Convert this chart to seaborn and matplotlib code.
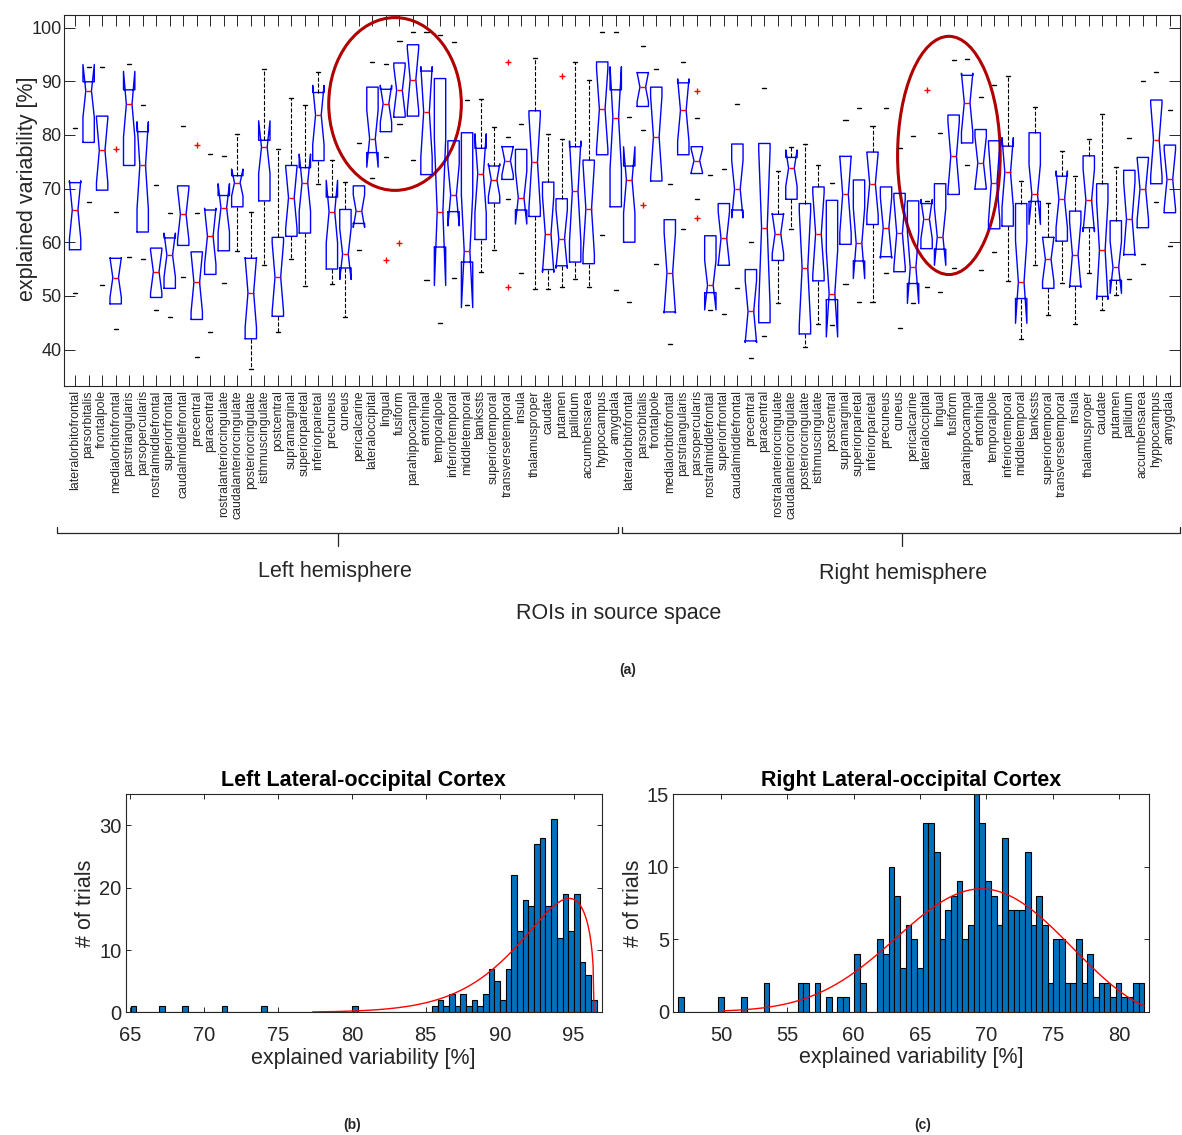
import numpy as np
import pandas as pd
import matplotlib
matplotlib.use('Agg')
import matplotlib.pyplot as plt
import seaborn as sns
from matplotlib.patches import Ellipse
from matplotlib.lines import Line2D

# ROI names (same list for both hemispheres)
rois = ['lateralorbitofrontal', 'parsorbitalis', 'frontalpole', 'medialorbitofrontal',
        'parstriangularis', 'parsopercularis', 'rostralmiddlefrontal', 'superiorfrontal',
        'caudalmiddlefrontal', 'precentral', 'paracentral', 'rostralanteriorcingulate',
        'caudalanteriorcingulate', 'posteriorcingulate', 'isthmuscingulate', 'postcentral',
        'supramarginal', 'superiorparietal', 'inferiorparietal', 'precuneus', 'cuneus',
        'pericalcarine', 'lateraloccipital', 'lingual', 'fusiform', 'parahippocampal',
        'entorhinal', 'temporalpole', 'inferiortemporal', 'middletemporal', 'bankssts',
        'superiortemporal', 'transversetemporal', 'insula', 'thalamusproper', 'caudate',
        'putamen', 'pallidum', 'accumbensarea', 'hyppocampus', 'amygdala']

# box statistics, left hemisphere
left_med = [66.0, 88.2, 77.1, 53.4, 85.7, 74.3, 54.5, 57.6, 65.2, 52.5, 61.1, 66.4, 71.1, 50.6,
            77.7, 53.5, 68.3, 71.1, 83.7, 65.7, 57.8, 65.8, 79.3, 85.8, 88.3, 90.3, 84.3, 65.6,
            68.8, 58.3, 72.8, 71.6, 75.2, 68.3, 75.0, 61.5, 60.6, 69.5, 66.2, 84.8, 83.2]
left_q1 = [58.6, 78.6, 69.7, 48.5, 74.3, 61.9, 49.7, 51.4, 59.4, 45.6, 54.0, 58.4, 66.6, 42.0,
           67.7, 46.2, 61.1, 61.7, 75.2, 55.0, 55.2, 63.5, 76.7, 80.6, 83.3, 83.5, 72.6, 59.1,
           65.7, 56.3, 60.5, 67.3, 71.7, 66.0, 64.8, 54.9, 55.6, 56.3, 56.0, 76.3, 66.6]
left_q3 = [71.1, 89.9, 83.5, 57.0, 88.4, 80.6, 58.9, 60.8, 70.5, 58.2, 66.0, 68.7, 72.4, 57.0,
           79.0, 60.9, 74.3, 73.9, 87.9, 68.4, 66.1, 70.5, 88.9, 88.5, 93.4, 96.8, 91.9, 90.5,
           78.9, 80.4, 77.5, 74.2, 77.8, 77.3, 84.5, 71.2, 68.1, 77.8, 75.3, 93.6, 88.4]
left_lo = [50.6, 67.4, 52.0, 43.9, 57.3, 56.9, 47.3, 46.0, 53.5, 38.6, 43.3, 52.4, 58.3, 36.3,
           55.7, 43.3, 56.8, 51.8, 70.9, 52.2, 46.0, 58.6, 71.9, 75.9, 82.0, 75.3, 53.0, 45.0,
           53.4, 48.3, 54.5, 58.6, 68.0, 54.2, 51.2, 51.2, 51.7, 53.2, 51.7, 61.4, 51.1]
left_hi = [81.2, 92.7, 92.7, 65.7, 93.3, 85.5, 70.7, 65.5, 81.6, 65.5, 76.5, 76.1, 80.1, 65.7,
           92.2, 77.3, 86.8, 85.5, 91.7, 75.3, 71.2, 78.5, 93.6, 93.3, 97.5, 99.1, 99.2, 98.7,
           97.3, 86.5, 86.6, 81.4, 79.6, 82.0, 94.3, 80.2, 79.3, 93.6, 90.3, 99.1, 99.1]
left_fliers = {4: [77.3], 10: [78.1], 24: [56.6], 25: [59.9], 33: [93.6, 51.6], 37: [90.9]}

# box statistics, right hemisphere
right_med = [71.6, 88.9, 79.6, 54.3, 84.6, 75.2, 52.0, 60.7, 69.9, 47.1, 62.7, 61.6, 73.8, 55.2,
             61.6, 50.4, 68.9, 59.8, 70.9, 62.7, 61.7, 55.3, 64.3, 61.0, 76.0, 86.0, 74.8, 71.1,
             73.0, 52.6, 68.9, 56.8, 68.0, 57.7, 67.8, 58.5, 55.3, 64.4, 69.9, 79.1, 71.7]
right_q1 = [60.0, 85.3, 71.4, 47.0, 76.3, 72.8, 50.6, 55.7, 66.0, 41.6, 45.0, 56.6, 68.0, 42.9,
            52.8, 49.3, 59.6, 56.5, 63.3, 57.3, 54.5, 52.3, 58.8, 58.7, 68.9, 78.5, 69.9, 62.5,
            63.0, 49.5, 67.6, 51.4, 60.2, 51.8, 62.7, 49.9, 52.9, 57.7, 62.7, 70.9, 65.5]
right_q3 = [74.2, 91.6, 88.9, 64.2, 89.7, 77.8, 61.2, 67.2, 78.3, 54.9, 78.4, 65.2, 75.8, 67.2,
            70.3, 67.8, 76.0, 71.6, 76.8, 70.3, 69.1, 67.7, 67.2, 70.9, 83.7, 91.1, 81.0, 78.9,
            77.9, 67.2, 80.4, 60.9, 72.3, 65.8, 76.1, 70.9, 64.0, 73.4, 75.8, 86.5, 78.1]
right_lo = [48.9, 80.9, 55.9, 41.0, 62.5, 68.1, 47.3, 46.7, 51.5, 38.4, 42.5, 48.6, 62.5, 40.4,
            44.8, 44.5, 52.2, 48.8, 48.8, 54.2, 44.0, 48.6, 51.7, 50.7, 55.2, 74.3, 54.8, 58.2,
            52.8, 42.0, 55.7, 46.4, 52.4, 44.8, 54.3, 47.3, 50.1, 53.2, 55.9, 67.5, 59.3]
right_hi = [83.4, 96.6, 92.3, 70.9, 93.5, 83.2, 72.5, 73.6, 85.7, 60.0, 88.8, 73.2, 77.8, 78.3,
            74.3, 71.1, 82.8, 85.1, 81.6, 85.1, 77.5, 79.8, 67.7, 80.4, 94.0, 94.2, 87.1, 89.3,
            90.9, 71.4, 85.2, 67.3, 77.0, 72.3, 79.3, 83.9, 74.0, 79.4, 90.1, 91.7, 84.6]
right_fliers = {2: [67.0], 6: [88.1, 64.5], 23: [88.3]}

n_subjects = 13  # used for the notch width

# histogram counts (82 bins each), lateral occipital cortex
n_bins = 82
left_range = (65.05, 96.55)
left_counts = [1, 0, 0, 0, 0, 1, 0, 0, 0, 1,
               0, 0, 0, 0, 0, 0, 1, 0, 0, 0,
               0, 0, 0, 1, 0, 0, 0, 0, 0, 0,
               0, 0, 0, 0, 0, 0, 0, 0, 0, 1,
               0, 0, 0, 0, 0, 0, 0, 0, 0, 0,
               0, 0, 0, 1, 2, 1, 3, 1, 3, 1,
               2, 1, 3, 7, 5, 2, 7, 22, 13, 18,
               17, 27, 28, 17, 31, 12, 19, 13, 19, 8,
               6, 2]
right_range = (46.8, 81.88)
right_counts = [1, 0, 0, 0, 0, 0, 0, 1, 0, 0,
                0, 1, 0, 0, 0, 2, 0, 0, 0, 0,
                0, 2, 2, 0, 2, 0, 1, 0, 1, 1,
                0, 4, 2, 0, 0, 5, 4, 10, 8, 3,
                6, 5, 3, 13, 13, 11, 5, 7, 8, 9,
                5, 6, 15, 13, 9, 8, 6, 12, 7, 7,
                7, 11, 6, 8, 6, 2, 5, 5, 2, 2,
                5, 2, 4, 1, 2, 2, 1, 2, 1, 1,
                2, 2]

sns.set_style('ticks')
plt.rcParams['font.family'] = ['Liberation Sans', 'DejaVu Sans']
plt.rcParams['axes.edgecolor'] = '#262626'
plt.rcParams['xtick.color'] = '#262626'
plt.rcParams['ytick.color'] = '#262626'
plt.rcParams['axes.labelcolor'] = '#262626'
plt.rcParams['axes.linewidth'] = 0.8

W, H = 1182, 1135
fig = plt.figure(figsize=(W / 100, H / 100), dpi=100)


def fx(px):
    return px / W


def fy(py):
    return 1 - py / H


# ---------------- (a) boxplots ----------------
ax = fig.add_axes([fx(64.3), fy(386), fx(1180) - fx(64.3), fy(14.7) - fy(386)])

med = left_med + right_med
q1 = left_q1 + right_q1
q3 = left_q3 + right_q3
lo = left_lo + right_lo
hi = left_hi + right_hi
fliers = dict(left_fliers)
fliers.update({k + len(rois): v for k, v in right_fliers.items()})

stats = []
for i in range(len(med)):
    half = 1.57 * (q3[i] - q1[i]) / np.sqrt(n_subjects)
    stats.append(dict(med=med[i], q1=q1[i], q3=q3[i], whislo=lo[i], whishi=hi[i],
                      cilo=med[i] - half, cihi=med[i] + half,
                      fliers=np.array(fliers.get(i + 1, []))))

pos = np.arange(1, len(med) + 1)
art = ax.bxp(stats, positions=pos, widths=0.84, shownotches=True, capwidths=0.3,
             boxprops=dict(color='blue', lw=1.0),
             medianprops=dict(color='red', lw=1.0),
             whiskerprops=dict(color='black', ls='--', lw=0.8),
             capprops=dict(color='black', lw=1.0),
             flierprops=dict(marker='+', markeredgecolor='red', markersize=5, ls='none'),
             manage_ticks=False)

# whiskers that show up as dashed lines in the figure
dashed = {13, 14, 15, 16, 17, 18, 19, 20, 21, 31, 32, 35, 36, 37, 38, 39,
          53, 54, 55, 56, 60, 70, 71, 72, 73, 74, 75, 76, 77, 78}
for i in range(len(med)):
    if i + 1 not in dashed:
        art['whiskers'][2 * i].set_visible(False)
        art['whiskers'][2 * i + 1].set_visible(False)

ax.set_xlim(0.2, 82.75)
ax.set_ylim(33.2, 102.4)
ax.set_yticks(range(40, 101, 10))
ax.set_xticks(pos)
ax.set_xticklabels(rois + rois, rotation=90, fontsize=8.9,
                   family=['Liberation Sans Narrow', 'Liberation Sans', 'DejaVu Sans'])
ax.tick_params(axis='both', direction='in', length=8, width=0.7, top=True, right=True)
ax.tick_params(axis='x', pad=3)
ax.tick_params(axis='y', labelsize=13, pad=2)
ax.set_ylabel('explained variability [%]', fontsize=15.5)
ax.yaxis.set_label_coords(-0.024, 0.53)

# highlighted regions
ax.add_patch(Ellipse((24.67, 85.76), 9.81, 32.2, fill=False, ec='#B00000', lw=2.2, clip_on=False))
ax.add_patch(Ellipse((65.65, 76.17), 7.59, 44.4, fill=False, ec='#B00000', lw=2.2, clip_on=False))

# hemisphere brackets
for x0, x1, xc in [(57, 618, 338), (622, 1180, 902)]:
    fig.add_artist(Line2D([fx(x0), fx(x0), fx(x1), fx(x1)], [fy(527), fy(533), fy(533), fy(527)],
                          color='#262626', lw=0.9))
    fig.add_artist(Line2D([fx(xc), fx(xc)], [fy(533), fy(546)], color='#262626', lw=0.9))

fig.text(fx(335), fy(572), 'Left hemisphere', ha='center', va='center', fontsize=15.5, color='#262626')
fig.text(fx(903), fy(573), 'Right hemisphere', ha='center', va='center', fontsize=15.5, color='#262626')
fig.text(fx(619), fy(613), 'ROIs in source space', ha='center', va='center', fontsize=15.5, color='#262626')
fig.text(fx(628), fy(670), '(a)', ha='center', va='center', fontsize=10, fontweight='bold')


# ---------------- (b), (c) histograms ----------------
def gev_fit(x, w):
    # max-likelihood GEV fit with negative shape, written as b - x ~ Weibull(k, lam)
    best = (-np.inf, None)
    ks = np.linspace(0.8, 12, 800)
    for b in x.max() + np.geomspace(0.01, 40, 500):
        y = b - x
        yk = y[None, :] ** ks[:, None]
        lam = ((w * yk).sum(axis=1) / w.sum()) ** (1 / ks)
        z = y[None, :] / lam[:, None]
        ll = (w * (np.log(ks[:, None]) - np.log(lam[:, None]) + (ks[:, None] - 1) * np.log(z)
                   - z ** ks[:, None])).sum(axis=1)
        j = np.argmax(ll)
        if ll[j] > best[0]:
            best = (ll[j], (b, ks[j], lam[j]))
    return best[1]


def draw_hist(ax, counts, rng, title, xticks, yticks, ylim):
    counts = np.array(counts, dtype=float)
    edges = np.linspace(rng[0], rng[1], n_bins + 1)
    centers = (edges[:-1] + edges[1:]) / 2
    bw = edges[1] - edges[0]
    df = pd.DataFrame({'value': centers, 'trials': counts})
    sns.histplot(data=df, x='value', weights='trials', bins=n_bins, binrange=rng, ax=ax,
                 color='#0072BD', edgecolor='black', linewidth=0.8, alpha=1)
    n = counts.sum()
    b, k, lam = gev_fit(centers[counts > 0], counts[counts > 0])
    xs = np.linspace(edges[0], min(edges[-1], b - 1e-6), 500)
    y = (b - xs) / lam
    ys = (k / lam) * y ** (k - 1) * np.exp(-y ** k) * n * bw
    ys[ys < 0.06] = np.nan
    ax.plot(xs, ys, color='red', lw=1.0)
    ax.set_xlim(edges[0] - 0.9 * bw, edges[-1] + 0.9 * bw)
    ax.set_ylim(*ylim)
    ax.set_xticks(xticks)
    ax.set_yticks(yticks)
    ax.tick_params(direction='in', length=3.5, width=0.7, top=True, right=True, labelsize=14.5, pad=3)
    ax.tick_params(axis='x', pad=10)
    ax.set_title(title, fontweight='bold', fontsize=15.5, pad=6, color='black')
    ax.set_xlabel('explained variability [%]', fontsize=15.5, labelpad=2)
    ax.set_ylabel('# of trials', fontsize=15.5, labelpad=2)


axL = fig.add_axes([fx(125.7), fy(1012.3), fx(601.7) - fx(125.7), fy(794.3) - fy(1012.3)])
draw_hist(axL, left_counts, left_range, 'Left Lateral-occipital Cortex',
          range(65, 96, 5), [0, 10, 20, 30], (0, 35))

axR = fig.add_axes([fx(673.3), fy(1011.7), fx(1149.3) - fx(673.3), fy(794.3) - fy(1011.7)])
draw_hist(axR, right_counts, right_range, 'Right Lateral-occipital Cortex',
          range(50, 81, 5), [0, 5, 10, 15], (0, 15))

fig.text(fx(352), fy(1125), '(b)', ha='center', va='center', fontsize=10, fontweight='bold')
fig.text(fx(923), fy(1125), '(c)', ha='center', va='center', fontsize=10, fontweight='bold')

fig.savefig('out.png', dpi=100)
